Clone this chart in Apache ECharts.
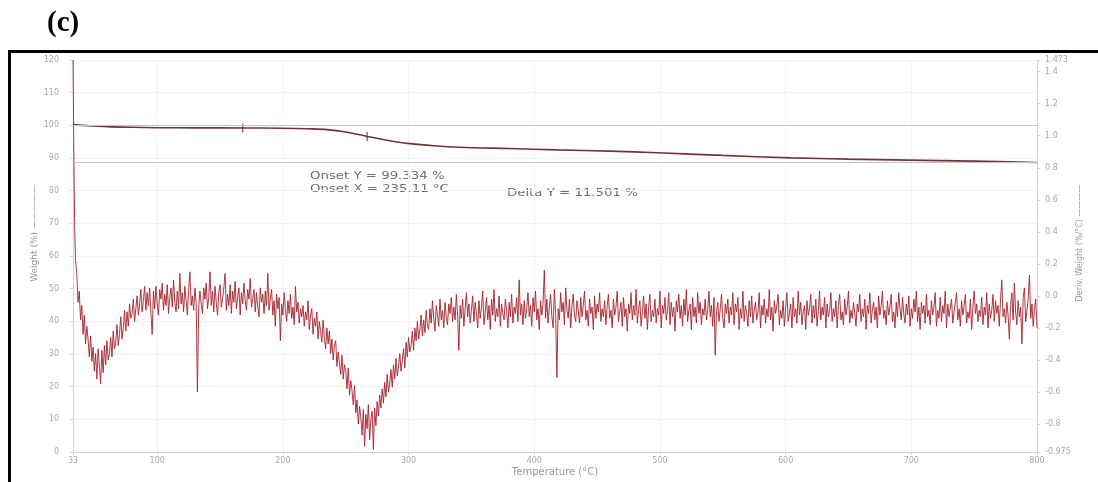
<!DOCTYPE html>
<html>
<head>
<meta charset="utf-8">
<script src="https://cdn.jsdelivr.net/npm/echarts/dist/echarts.min.js"></script>
<style>
  html, body { margin: 0; padding: 0; background: #ffffff; }
  #chart { width: 1098px; height: 482px; }
</style>
</head>
<body>
<div id="chart"></div>
<script>
// Temperature span of the run (°C)
const tempRange = [33, 800];

// TGA weight trace: [temperature °C, weight %]
const weightCurve = [
  [33, 100.35], [36, 100.15], [45, 99.9], [60, 99.6], [80, 99.4], [100, 99.28],
  [130, 99.22], [168, 99.2], [200, 99.12], [220, 98.95], [235, 98.7], [250, 97.95],
  [267, 96.6], [285, 95.3], [301, 94.4], [320, 93.75], [341, 93.3], [380, 92.9],
  [418, 92.5], [460, 92.1], [498, 91.6], [550, 90.8], [604, 90.05], [650, 89.65],
  [697, 89.35], [750, 89.05], [800, 88.6]
];

// Small step markers sitting on the weight trace
const stepMarks = [[168, 99.2], [267, 96.6]];

// Reference levels bracketing the total loss (Delta Y)
const deltaLevels = [100.10, 88.599];

// Derivative weight trace: the initial spike, then one reading per °C from 36 °C
const dtgHead = [[33, 1.473], [33.6, 0.95], [34.3, 0.45], [35, 0.22]];
const dtgStartT = 36;
const dtgStepT = 1;
const dtgValues = [
  0.14, -0.04, 0.03, -0.15, -0.06, -0.24, -0.12, -0.30, -0.19, -0.27, -0.38, -0.25, -0.41, -0.32, -0.47, -0.36, -0.52, -0.33, -0.44, -0.55,   // 36-55
  -0.34, -0.48, -0.31, -0.43, -0.28, -0.40, -0.36, -0.26, -0.38, -0.22, -0.33, -0.29, -0.18, -0.31, -0.24, -0.13, -0.27, -0.20, -0.09, -0.22, // 56-75
  -0.10, -0.19, -0.05, -0.14, -0.11, -0.02, -0.16, -0.08, 0.00, -0.12, -0.05, 0.04, -0.10, -0.03, 0.06, -0.09, 0.02, -0.06, 0.05, -0.11,      // 76-95
  -0.24, 0.03, -0.08, 0.06, -0.05, -0.12, 0.04, -0.02, 0.08, -0.09, 0.01, -0.06, 0.07, -0.11, -0.01, 0.05, -0.07, 0.10, -0.04, -0.10,         // 96-115
  0.03, -0.08, 0.14, -0.05, 0.02, -0.10, 0.06, -0.03, -0.12, 0.04, 0.15, -0.06, 0.00, -0.09, 0.05, -0.04, -0.60, -0.07, 0.03, -0.05,          // 116-135
  -0.11, 0.05, -0.02, 0.08, -0.08, -0.01, 0.15, -0.06, 0.03, -0.10, 0.06, -0.04, -0.12, 0.02, 0.07, -0.07, -0.02, 0.05, 0.14, -0.09,          // 136-155
  0.01, -0.06, 0.07, -0.11, 0.03, -0.04, 0.09, -0.08, -0.01, 0.05, -0.12, 0.02, -0.05, 0.08, -0.03, -0.09, 0.04, -0.02, 0.11, -0.07,          // 156-175
  -0.02, 0.04, -0.10, 0.02, -0.07, -0.13, 0.05, -0.04, 0.01, -0.11, 0.03, -0.06, 0.14, -0.09, -0.02, 0.04, -0.12, -0.03, -0.19, 0.01,         // 176-195
  -0.08, -0.01, -0.28, -0.05, -0.12, 0.02, -0.09, -0.16, -0.03, -0.11, 0.01, -0.14, -0.07, -0.18, 0.06, -0.10, -0.04, -0.17, -0.08, -0.13,    // 196-215
  -0.06, -0.19, -0.10, -0.15, -0.03, -0.21, -0.12, -0.08, -0.24, -0.14, -0.19, -0.10, -0.27, -0.16, -0.22, -0.29, -0.15, -0.26, -0.33, -0.20, // 216-235
  -0.30, -0.22, -0.36, -0.27, -0.40, -0.31, -0.28, -0.44, -0.35, -0.42, -0.49, -0.37, -0.52, -0.43, -0.47, -0.58, -0.45, -0.62, -0.53, -0.59, // 236-255
  -0.68, -0.56, -0.73, -0.65, -0.80, -0.69, -0.76, -0.87, -0.71, -0.94, -0.74, -0.83, -0.68, -0.90, -0.77, -0.72, -0.96, -0.70, -0.81, -0.66, // 256-275
  -0.75, -0.62, -0.70, -0.58, -0.67, -0.54, -0.63, -0.49, -0.60, -0.55, -0.46, -0.57, -0.43, -0.52, -0.39, -0.50, -0.44, -0.36, -0.47, -0.40, // 276-295
  -0.33, -0.45, -0.29, -0.38, -0.26, -0.35, -0.31, -0.22, -0.34, -0.20, -0.28, -0.16, -0.27, -0.21, -0.12, -0.25, -0.15, -0.23, -0.09, -0.19, // 296-315
  -0.21, -0.08, -0.17, -0.03, -0.14, -0.22, -0.06, -0.12, -0.19, -0.02, -0.15, -0.09, -0.20, -0.04, -0.13, -0.18, -0.05, -0.11, -0.01, -0.16, // 316-335
  -0.07, -0.15, 0.01, -0.12, -0.34, -0.06, -0.14, -0.02, -0.19, -0.08, 0.02, -0.13, -0.05, -0.17, -0.09, 0.00, -0.16, -0.04, -0.11, -0.20,    // 336-355
  -0.03, -0.14, -0.07, 0.03, -0.18, -0.10, -0.01, -0.15, -0.06, -0.21, -0.02, -0.12, 0.04, -0.16, -0.08, -0.13, 0.00, -0.19, -0.05, -0.11,    // 356-375
  -0.15, -0.02, -0.09, -0.20, -0.04, -0.13, 0.01, -0.17, -0.07, -0.11, -0.01, -0.16, 0.10, -0.12, -0.05, -0.18, -0.03, -0.14, -0.08, 0.02,    // 376-395
  -0.13, -0.06, -0.19, -0.01, -0.10, 0.03, -0.15, -0.08, -0.21, -0.03, -0.12, -0.05, 0.16, -0.14, -0.02, -0.17, -0.07, 0.01, -0.13, -0.20,    // 396-415
  0.04, -0.11, -0.51, -0.08, -0.15, 0.02, -0.10, -0.04, -0.18, 0.05, -0.09, -0.14, -0.02, -0.20, -0.06, 0.01, -0.12, -0.16, -0.03, -0.09,     // 416-435
  -0.17, -0.01, -0.13, -0.06, 0.03, -0.15, -0.09, -0.19, -0.02, -0.11, -0.07, -0.21, 0.00, -0.14, -0.05, -0.10, 0.02, -0.16, -0.08, -0.13,    // 436-455
  -0.03, -0.18, -0.06, 0.01, -0.14, -0.09, -0.20, -0.02, -0.12, -0.07, 0.03, -0.16, -0.10, -0.04, -0.19, -0.01, -0.13, -0.08, -0.22, -0.05,   // 456-475
  -0.11, 0.02, -0.15, -0.06, -0.12, 0.04, -0.17, -0.08, -0.03, -0.19, -0.10, 0.00, -0.14, -0.05, -0.21, -0.07, 0.01, -0.16, -0.09, -0.13,     // 476-495
  -0.02, -0.17, -0.08, -0.12, 0.03, -0.20, -0.06, -0.11, -0.01, -0.15, -0.09, 0.02, -0.18, -0.04, -0.13, -0.07, -0.22, -0.03, -0.10, 0.01,    // 496-515
  -0.14, -0.06, -0.19, -0.02, -0.12, 0.04, -0.16, -0.09, -0.05, -0.21, -0.01, -0.13, -0.07, -0.17, 0.02, -0.11, -0.04, -0.18, -0.08, -0.12,   // 516-535
  -0.02, -0.15, -0.09, 0.03, -0.13, -0.06, -0.19, -0.01, -0.37, -0.10, -0.04, -0.16, -0.08, 0.01, -0.14, -0.20, -0.05, -0.11, -0.02, -0.17,   // 536-555
  -0.07, -0.12, 0.02, -0.18, -0.05, -0.10, -0.01, -0.21, -0.08, -0.14, 0.03, -0.16, -0.06, -0.11, -0.19, -0.03, -0.13, 0.00, -0.17, -0.09,    // 556-575
  -0.04, -0.15, -0.10, 0.02, -0.20, -0.06, -0.12, -0.02, -0.17, -0.08, -0.13, 0.04, -0.15, -0.07, -0.22, -0.03, -0.11, -0.06, 0.01, -0.18,    // 576-595
  -0.09, -0.14, -0.03, -0.19, -0.07, 0.02, -0.16, -0.11, -0.05, -0.20, -0.01, -0.13, -0.08, -0.17, 0.03, -0.12, -0.04, -0.18, -0.10, -0.06,   // 596-615
  -0.21, -0.03, -0.12, -0.08, 0.01, -0.17, -0.06, -0.14, -0.02, -0.19, -0.10, 0.03, -0.15, -0.07, -0.12, -0.01, -0.20, -0.05, -0.13, -0.09,   // 616-635
  0.02, -0.16, -0.08, -0.13, -0.03, -0.20, -0.06, 0.01, -0.15, -0.10, -0.18, -0.02, -0.12, -0.07, 0.03, -0.17, -0.09, -0.14, -0.04, -0.11,    // 636-655
  -0.19, -0.05, -0.10, 0.01, -0.16, -0.08, -0.13, -0.02, -0.21, -0.06, -0.11, 0.02, -0.17, -0.09, -0.04, -0.15, -0.07, -0.20, 0.00, -0.12,    // 656-675
  -0.06, 0.03, -0.14, -0.09, -0.18, -0.03, -0.12, -0.07, 0.01, -0.16, -0.10, -0.20, -0.04, -0.13, 0.02, -0.08, -0.15, -0.01, -0.11, -0.17,    // 676-695
  -0.05, -0.12, 0.00, -0.19, -0.08, -0.14, -0.02, -0.10, 0.03, -0.16, -0.07, -0.21, -0.04, -0.11, -0.06, -0.17, 0.01, -0.13, -0.09, -0.18,    // 696-715
  -0.03, -0.12, -0.07, 0.02, -0.19, -0.09, -0.14, -0.01, -0.16, -0.06, -0.11, 0.03, -0.20, -0.05, -0.13, -0.08, -0.02, -0.17, -0.10, -0.04,   // 716-735
  0.02, -0.15, -0.08, -0.19, -0.03, -0.12, -0.06, 0.01, -0.17, -0.10, -0.14, -0.02, -0.21, -0.07, 0.03, -0.11, -0.05, -0.16, -0.09, -0.13,    // 736-755
  -0.01, -0.18, -0.07, -0.12, 0.02, -0.20, -0.05, -0.14, -0.09, 0.01, -0.16, -0.03, -0.11, -0.06, -0.19, -0.02, 0.10, -0.13, -0.08, -0.17,    // 756-775
  -0.04, -0.12, -0.27, -0.06, 0.02, -0.15, 0.08, -0.10, -0.18, -0.03, -0.13, -0.07, -0.30, -0.01, 0.05, -0.16, -0.09, -0.02, 0.13, -0.14,     // 776-795
  -0.05, -0.19, -0.08, -0.02, -0.20                                                                                                              // 796-800
];

// Right-axis extent (auto-scaled to the derivative trace)
const dtgRange = [-0.975, 1.473];

// Texts
const xTitle = 'Temperature (\u00B0C)';
const leftTitle = 'Weight (%) \u2014\u2014\u2014\u2014\u2014';
const rightTitle = 'Deriv. Weight (%/\u00B0C) \u2014\u2014\u2014\u2014';
const onsetLines = ['Onset Y = 99.334 %', 'Onset X = 235.11 \u00B0C'];
const deltaText = 'Delta Y = 11.501 %';

const dtgData = dtgHead.concat(dtgValues.map((v, i) => [dtgStartT + i * dtgStepT, v]));

const labelFont = { color: '#a8a8a8', fontSize: 8, fontFamily: 'DejaVu Sans' };
const axisGrey = '#d4d4d4';
const titleFill = '#9a9a9a';

const chart = echarts.init(document.getElementById('chart'), null, { renderer: 'canvas' });

chart.setOption({
  backgroundColor: '#ffffff',
  animation: false,
  grid: { left: 73, right: 61, top: 60, bottom: 30, containLabel: false, outerBoundsMode: 'none' },
  xAxis: {
    type: 'value',
    min: tempRange[0],
    max: tempRange[1],
    splitNumber: 8,
    minInterval: 100,
    maxInterval: 100,
    axisLine: { lineStyle: { color: axisGrey } },
    axisTick: { length: 3, lineStyle: { color: axisGrey } },
    axisLabel: Object.assign({ margin: 5, showMinLabel: true, showMaxLabel: true }, labelFont),
    splitLine: { show: true, lineStyle: { color: '#f3f3f3' } }
  },
  yAxis: [
    {
      type: 'value',
      min: 0,
      max: 120,
      interval: 10,
      axisLine: { show: true, lineStyle: { color: axisGrey } },
      axisTick: { show: true, length: 3, lineStyle: { color: axisGrey } },
      axisLabel: Object.assign({ margin: 14 }, labelFont),
      splitLine: { show: true, lineStyle: { color: '#f3f3f3' } }
    },
    {
      type: 'value',
      position: 'right',
      min: dtgRange[0],
      max: dtgRange[1],
      splitNumber: 12,
      minInterval: 0.2,
      maxInterval: 0.2,
      axisLine: { show: true, lineStyle: { color: axisGrey } },
      axisTick: { show: true, length: 3, lineStyle: { color: axisGrey } },
      axisLabel: Object.assign({
        margin: 8,
        showMinLabel: true,
        showMaxLabel: true,
        formatter: v => (v === dtgRange[0] || v === dtgRange[1]) ? String(v) : v.toFixed(1)
      }, labelFont),
      splitLine: { show: false }
    }
  ],
  series: [
    {
      name: 'Weight',
      type: 'line',
      yAxisIndex: 0,
      data: weightCurve,
      smooth: 0.35,
      showSymbol: false,
      lineStyle: { color: '#70333a', width: 1.6 },
      markLine: {
        silent: true,
        symbol: 'none',
        label: { show: false },
        lineStyle: { color: '#c4c4c4', width: 1, type: 'solid' },
        data: deltaLevels.map(v => ({ yAxis: v }))
      },
      z: 3
    },
    {
      name: 'Steps',
      type: 'scatter',
      yAxisIndex: 0,
      data: stepMarks,
      symbol: 'rect',
      symbolSize: [1.4, 9],
      itemStyle: { color: '#6e3a3c' },
      z: 4
    },
    {
      name: 'Deriv. Weight',
      type: 'line',
      yAxisIndex: 1,
      data: dtgData,
      showSymbol: false,
      sampling: null,
      lineStyle: { color: '#a4222f', width: 1, opacity: 0.9 },
      z: 2
    }
  ],
  graphic: [
    { type: 'text', x: 47, y: 9, style: { text: '(c)', font: 'bold 29px "Liberation Serif"', fill: '#000000' } },
    { type: 'line', shape: { x1: 8, y1: 51.5, x2: 1098, y2: 51.5 }, style: { stroke: '#000000', lineWidth: 3 } },
    { type: 'line', shape: { x1: 9.5, y1: 50, x2: 9.5, y2: 482 }, style: { stroke: '#000000', lineWidth: 3 } },
    { type: 'text', x: 555, y: 472, style: { text: xTitle, font: '10px "DejaVu Sans"', fill: titleFill, align: 'center', verticalAlign: 'middle' } },
    { type: 'text', x: 35, y: 233, rotation: Math.PI / 2, style: { text: leftTitle, font: '9px "DejaVu Sans"', fill: titleFill, align: 'center', verticalAlign: 'middle' } },
    { type: 'text', x: 1080, y: 243, rotation: Math.PI / 2, style: { text: rightTitle, font: '8px "DejaVu Sans"', fill: titleFill, align: 'center', verticalAlign: 'middle' } },
    { type: 'text', x: 310, y: 170, scaleX: 1.33, style: { text: onsetLines.join('\n'), font: '10px "DejaVu Sans"', fill: '#6f6f6f', lineHeight: 13 } },
    { type: 'text', x: 507, y: 188, scaleX: 1.33, style: { text: deltaText, font: '10px "DejaVu Sans"', fill: '#6f6f6f' } }
  ]
});
</script>
</body>
</html>
